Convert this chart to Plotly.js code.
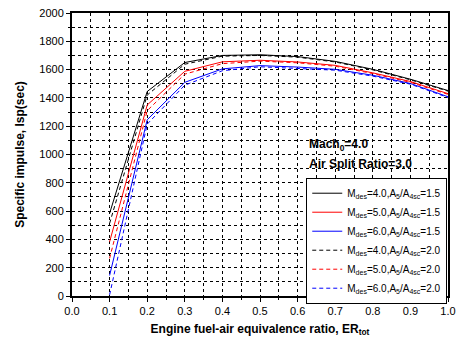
<!DOCTYPE html>
<html>
<head>
<meta charset="utf-8">
<script src="https://cdn.plot.ly/plotly-3.0.1.min.js"></script>
<style>html,body{margin:0;padding:0;background:#fff;}#chart{width:457px;height:343px;}</style>
</head>
<body>
<div id="chart"></div>
<script>
const er = [0.1, 0.2, 0.3, 0.4, 0.5, 0.6, 0.7, 0.8, 0.9, 1.0];
const isp_m4_a15 = [584, 1445, 1650, 1700, 1705, 1692, 1658, 1602, 1532, 1452];
const isp_m5_a15 = [383, 1350, 1588, 1655, 1666, 1654, 1630, 1577, 1516, 1430];
const isp_m6_a15 = [145, 1245, 1510, 1605, 1628, 1618, 1602, 1560, 1502, 1408];
const isp_m4_a20 = [513, 1420, 1638, 1695, 1700, 1688, 1654, 1598, 1528, 1448];
const isp_m5_a20 = [266, 1310, 1568, 1642, 1660, 1648, 1624, 1572, 1510, 1425];
const isp_m6_a20 = [8, 1215, 1490, 1592, 1620, 1610, 1596, 1554, 1497, 1403];
const seriesNames = [
  "M<sub>des</sub>=4.0,A<sub>5</sub>/A<sub>4sc</sub>=1.5",
  "M<sub>des</sub>=5.0,A<sub>5</sub>/A<sub>4sc</sub>=1.5",
  "M<sub>des</sub>=6.0,A<sub>5</sub>/A<sub>4sc</sub>=1.5",
  "M<sub>des</sub>=4.0,A<sub>5</sub>/A<sub>4sc</sub>=2.0",
  "M<sub>des</sub>=5.0,A<sub>5</sub>/A<sub>4sc</sub>=2.0",
  "M<sub>des</sub>=6.0,A<sub>5</sub>/A<sub>4sc</sub>=2.0"
];
const xTitle = "Engine fuel-air equivalence ratio, ER<sub>tot</sub>";
const yTitle = "Specific impulse, Isp(sec)";

const ys = [isp_m4_a15, isp_m5_a15, isp_m6_a15, isp_m4_a20, isp_m5_a20, isp_m6_a20];
const colors = ["#000000", "#ff0000", "#0000ff", "#000000", "#ff0000", "#0000ff"];
const dashes = ["solid", "solid", "solid", "4px,3px", "4px,3px", "4px,3px"];

const traces = ys.map((y, i) => ({
  x: er, y: y, type: "scatter", mode: "lines", name: seriesNames[i],
  line: {color: colors[i], width: 1, dash: dashes[i]}
}));

const font = {family: "Liberation Sans, Arial, sans-serif", size: 11, color: "#000"};
const layout = {
  width: 457, height: 343,
  margin: {l: 72, r: 9, t: 13, b: 47},
  paper_bgcolor: "#fff", plot_bgcolor: "#fff",
  font: font,
  showlegend: true,
  legend: {x: 0.623, y: 0.418, xanchor: "left", yanchor: "top",
    bgcolor: "#fff", bordercolor: "#000", borderwidth: 1,
    font: {family: font.family, size: 10, color: "#000"},
    tracegroupgap: 0, itemwidth: 30},
  xaxis: {
    range: [0, 1], dtick: 0.1, tick0: 0, tickformat: ".1f",
    ticklabeloverflow: "allow",
    showline: true, linecolor: "#000", linewidth: 2, mirror: true,
    ticks: "outside", ticklen: 4, tickwidth: 1, tickcolor: "#000",
    showgrid: true, gridcolor: "#000", gridwidth: 1, griddash: "dot",
    zeroline: false,
    minor: {dtick: 0.05, ticks: "outside", ticklen: 2, tickcolor: "#000", showgrid: true, gridcolor: "#000", gridwidth: 1, griddash: "dot"},
    title: {text: "<b>" + xTitle + "</b>", font: {family: font.family, size: 12, color: "#000"}, standoff: 8}
  },
  yaxis: {
    range: [0, 2000], dtick: 200, tick0: 0,
    showline: true, linecolor: "#000", linewidth: 2, mirror: true,
    ticks: "outside", ticklen: 4, tickwidth: 1, tickcolor: "#000",
    showgrid: true, gridcolor: "#000", gridwidth: 1, griddash: "dot",
    zeroline: false,
    minor: {dtick: 100, ticks: "outside", ticklen: 2, tickcolor: "#000", showgrid: true, gridcolor: "#000", gridwidth: 1, griddash: "dot"},
    title: {text: "<b>" + yTitle + "</b>", font: {family: font.family, size: 12, color: "#000"}, standoff: 12}
  },
  annotations: [
    {xref: "paper", yref: "paper", x: 0.625, y: 0.535, xanchor: "left", yanchor: "middle", showarrow: false,
     text: "<b>Mach<sub>0</sub>=4.0</b>", font: {family: font.family, size: 12, color: "#000"}},
    {xref: "paper", yref: "paper", x: 0.625, y: 0.467, xanchor: "left", yanchor: "middle", showarrow: false,
     text: "<b>Air Split Ratio=3.0</b>", font: {family: font.family, size: 12, color: "#000"}}
  ]
};
Plotly.newPlot("chart", traces, layout, {displayModeBar: false, staticPlot: true});
</script>
</body>
</html>
